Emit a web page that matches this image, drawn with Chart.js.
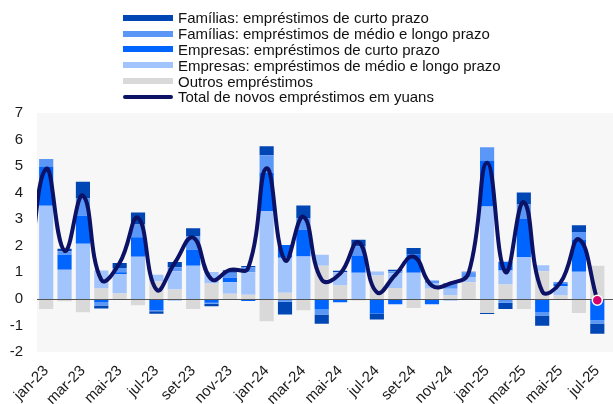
<!DOCTYPE html>
<html>
<head>
<meta charset="utf-8">
<script src="https://cdn.jsdelivr.net/npm/chart.js@4.4.1/dist/chart.umd.min.js"></script>
<style>
  html, body { margin: 0; padding: 0; background: #fff; }
  #wrap { position: relative; width: 613px; height: 404px; overflow: hidden; }
  #legend {
    position: absolute; left: 123px; top: 10px;
    font-family: Arial, "Liberation Sans", sans-serif; font-size: 15px; color: #111;
  }
  .item { display: flex; align-items: center; height: 15.8px; white-space: nowrap; }
  .swatch { width: 50px; height: 6px; margin-right: 5px; flex: none; }
  .swatch.line { height: 4px; border-radius: 2px; }
</style>
</head>
<body>
<div id="wrap">
  <canvas id="loansChart" width="613" height="404"></canvas>
  <div id="legend"></div>
</div>
<script>
// meses (dez-22 só serve para o início da curva, fica fora do eixo)
const months = ['dez-22',
  'jan-23','fev-23','mar-23','abr-23','mai-23','jun-23','jul-23','ago-23','set-23','out-23','nov-23','dez-23',
  'jan-24','fev-24','mar-24','abr-24','mai-24','jun-24','jul-24','ago-24','set-24','out-24','nov-24','dez-24',
  'jan-25','fev-25','mar-25','abr-25','mai-25','jun-25','jul-25'];

// trilhões de yuans
const familiasCurto = [null,
  0, 0.10, 0.63, -0.11, 0.19, 0.45, -0.09, 0.20, 0.31, -0.10, 0.10, 0.05,
  0.34, -0.48, 0.47, -0.35, 0.06, 0.25, -0.23, 0.06, 0.25, 0, 0, 0.02,
  -0.04, -0.23, 0.46, -0.38, 0, 0.25, -0.38];
const familiasLongo = [null,
  0.28, 0.13, 0.65, -0.13, 0.16, 0.48, -0.05, 0.15, 0.50, -0.03, 0.18, 0.19,
  0.66, -0.11, 0.45, -0.19, 0, 0.35, 0, 0.07, 0, 0.11, 0.22, 0.12,
  0.50, -0.15, 0.54, -0.14, 0.06, 0.28, -0.13];
const empresasCurto = [null,
  1.48, 0.56, 1.05, -0.12, 0.06, 0.73, -0.42, -0.05, 0.60, -0.15, 0.17, -0.08,
  1.44, 0.48, 1.00, -0.40, -0.13, 0.65, -0.55, -0.20, 0.69, -0.20, -0.05, 0.05,
  1.73, 0.33, 1.43, -0.49, 0.10, 1.22, -0.80];
const empresasLongo = [null,
  3.51, 1.10, 2.08, 0.68, 0.74, 1.59, 0.25, 0.69, 1.25, 0.43, 0.44, 0.84,
  3.31, 1.32, 1.60, 0.41, 0.50, 0.98, 0.15, 0.56, 0.98, 0.20, 0.25, 0.20,
  3.48, 0.53, 1.58, 0.23, 0.35, 1.02, 0];
const outros = [null,
  -0.38, -0.09, -0.50, 0.39, 0.20, -0.24, 0.66, 0.35, -0.38, 0.58, 0.19, 0.16,
  -0.84, 0.23, -0.43, 1.25, 0.50, -0.06, 0.88, 0.41, -0.34, 0.38, 0.13, 0.63,
  -0.53, 0.54, -0.38, 1.04, 0.13, -0.53, 1.25];
const totalNovos = [0.6,
  4.90, 1.81, 3.89, 0.72, 1.36, 3.05, 0.35, 1.36, 2.31, 0.74, 1.09, 1.17,
  4.92, 1.45, 3.09, 0.72, 0.95, 2.13, 0.25, 0.90, 1.59, 0.50, 0.58, 0.99,
  5.13, 1.01, 3.64, 0.28, 0.62, 2.24, -0.05];

const yTicks = [-2, -1, 0, 1, 2, 3, 4, 5, 6, 7];

Chart.defaults.font.family = 'Arial, "Liberation Sans", sans-serif';
Chart.defaults.font.size = 15;
Chart.defaults.color = '#1a1a1a';

const plotBg = {
  id: 'plotBg',
  beforeDraw(chart) {
    const {ctx, chartArea: a} = chart;
    ctx.save();
    ctx.fillStyle = '#f7f7f7';
    ctx.fillRect(a.left, a.top, chart.width - a.left, a.bottom - a.top);
    ctx.restore();
  },
  // linha do zero por cima das barras, por baixo da curva
  afterDatasetDraw(chart, args) {
    if (args.index !== 4) return;
    const {ctx, chartArea: a} = chart;
    const y = Math.round(chart.scales.y.getPixelForValue(0)) + 0.5;
    ctx.save();
    ctx.strokeStyle = '#555';
    ctx.lineWidth = 1;
    ctx.beginPath();
    ctx.moveTo(a.left, y);
    ctx.lineTo(chart.width, y);
    ctx.stroke();
    ctx.restore();
  }
};

const bar = (label, data, color, order) => ({
  label, data, backgroundColor: color, order,
  borderWidth: 0, barPercentage: 0.77, categoryPercentage: 1
});

const lastIdx = totalNovos.length - 1;

const chart = new Chart(document.getElementById('loansChart'), {
  type: 'bar',
  data: {
    labels: months,
    datasets: [
      bar('Famílias: empréstimos de curto prazo', familiasCurto, '#0046b5', 5),
      bar('Famílias: empréstimos de médio e longo prazo', familiasLongo, '#5b97f7', 4),
      bar('Empresas: empréstimos de curto prazo', empresasCurto, '#0064ff', 3),
      bar('Empresas: empréstimos de médio e longo prazo', empresasLongo, '#a2c4fd', 2),
      bar('Outros empréstimos', outros, '#d9d9d9', 1),
      {
        type: 'line',
        label: 'Total de novos empréstimos em yuans',
        data: totalNovos,
        stack: 'total',
        order: 0,
        borderColor: '#0c1266',
        borderWidth: 4,
        tension: 0.45,
        pointRadius: totalNovos.map((v, i) => i === lastIdx ? 5 : 0),
        pointBackgroundColor: '#d6006f',
        pointBorderColor: '#ffffff',
        pointBorderWidth: 1.5,
        pointHoverRadius: 0
      }
    ]
  },
  options: {
    responsive: false,
    animation: false,
    layout: { padding: { top: 113, left: 10, right: 6, bottom: 0 } },
    plugins: {
      legend: { display: false },
      tooltip: { enabled: false }
    },
    scales: {
      x: {
        stacked: true,
        min: 'jan-23',
        grid: { display: false, drawTicks: false },
        border: { display: false },
        afterFit(axis) {
          // rótulos inclinados podem sair à esquerda, como no original
          axis.paddingLeft = 0;
          axis.paddingRight = 0;
          axis.height = 52;
        },
        ticks: {
          autoSkip: false,
          maxRotation: 45,
          minRotation: 45,
          padding: 10,
          callback: function (value) {
            return (value - 1) % 2 === 0 ? this.getLabelForValue(value) : '';
          }
        }
      },
      y: {
        stacked: true,
        min: yTicks[0],
        max: yTicks[yTicks.length - 1],
        grid: { display: false, drawTicks: false },
        border: { display: false },
        afterFit(axis) { axis.width = 27; },
        afterBuildTicks(axis) { axis.ticks = yTicks.map(v => ({ value: v })); },
        ticks: { padding: 14 }
      }
    }
  },
  plugins: [plotBg]
});

// legenda em HTML, um item por linha
const legend = document.getElementById('legend');
chart.data.datasets.forEach(ds => {
  const row = document.createElement('div');
  row.className = 'item';
  const sw = document.createElement('span');
  sw.className = ds.type === 'line' ? 'swatch line' : 'swatch';
  sw.style.background = ds.type === 'line' ? ds.borderColor : ds.backgroundColor;
  const txt = document.createElement('span');
  txt.textContent = ds.label;
  row.appendChild(sw);
  row.appendChild(txt);
  legend.appendChild(row);
});
</script>
</body>
</html>
